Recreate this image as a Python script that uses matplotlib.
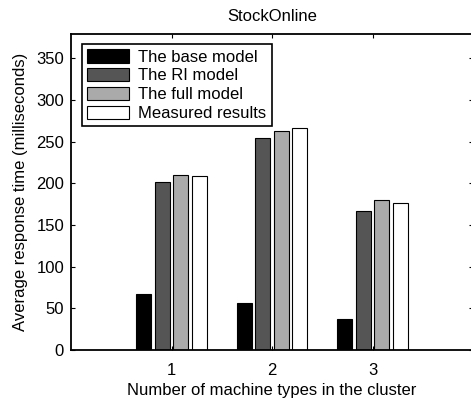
import matplotlib
matplotlib.use("Agg")
import matplotlib.pyplot as plt
import numpy as np

plt.rcParams['font.family'] = ['Liberation Sans', 'DejaVu Sans']

groups = [1, 2, 3]
series_names = ["The base model", "The RI model", "The full model", "Measured results"]
base_model = [67, 56, 37]
ri_model = [202, 255, 167]
full_model = [210, 263, 180]
measured = [209, 267, 176]
colors = ["#000000", "#555555", "#aaaaaa", "#ffffff"]

fig = plt.figure(figsize=(4.71, 4.01), dpi=100)
ax = fig.add_axes([71/471, 51/401, 402/471, 316.5/401])

values = [base_model, ri_model, full_model, measured]
step = 0.183
width = 0.15
x = np.array(groups, dtype=float)
for i, (name, vals, c) in enumerate(zip(series_names, values, colors)):
    ax.bar(x + (i - 1.5) * step, vals, width=width, color=c, edgecolor='black',
           linewidth=0.8, label=name)

fs = 12
ax.set_xlim(0, 4)
ax.set_ylim(0, 380)
ax.set_xticks(groups)
ax.set_yticks(np.arange(0, 351, 50))
ax.tick_params(direction='in', top=True, right=True, length=3, labelsize=fs, width=0.8)
ax.tick_params(axis='x', pad=9.5)
ax.tick_params(axis='y', pad=5)
for s in ax.spines.values():
    s.set_linewidth(1.3)
ax.set_title("StockOnline", fontsize=fs, pad=9)
ax.set_xlabel("Number of machine types in the cluster", fontsize=fs, labelpad=3.5)
ax.set_ylabel("Average response time (milliseconds)", fontsize=fs, labelpad=6)

leg = ax.legend(loc='upper left', bbox_to_anchor=(0.0, 1.0), fontsize=fs, fancybox=False,
                framealpha=1, edgecolor='black', borderpad=0.3, labelspacing=0.2,
                handlelength=2.5, handleheight=0.85, handletextpad=0.6, borderaxespad=0.65)
leg.get_frame().set_linewidth(1.2)

fig.savefig("out.png", dpi=100)
